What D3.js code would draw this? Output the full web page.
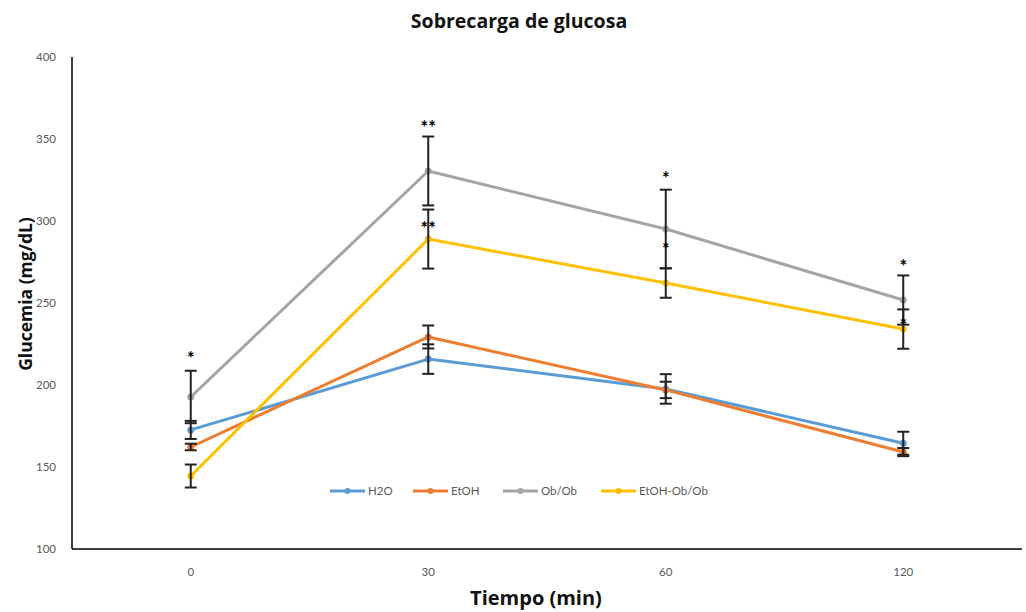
<!DOCTYPE html>
<html>
<head>
<meta charset="utf-8">
<script src="https://cdn.jsdelivr.net/npm/d3@7"></script>
<style>
  body { margin: 0; background: #fff; }
  text { font-family: Lato, "Open Sans", sans-serif; }
  .titulo { font-family: "Open Sans", Lato, sans-serif; font-weight: bold; }
</style>
</head>
<body>
<div id="vis"></div>
<script>
const WIDTH = 1026;
const HEIGHT = 612;
const margins = [72, 4, 57, 63]; // izquierda, derecha, arriba, abajo

// datos
const tiempos = ["0", "30", "60", "120"];
const series = ["H2O", "EtOH", "Ob/Ob", "EtOH-Ob/Ob"];
const colores = ["#5B9BD5", "#ED7D31", "#A5A5A5", "#FFC000"];
const h2o = [172.6, 215.8, 197.6, 164.5];
const etoh = [162.2, 229.3, 197.0, 159.1];
const obob = [192.7, 330.5, 295.1, 251.8];
const etohObob = [144.5, 289.0, 262.2, 234.1];
const err_h2o = [5.5, 9, 9, 7];
const err_etoh = [2, 7, 5, 2.5];
const err_obob = [16, 21, 24, 15];
const err_etohObob = [7, 18, 9, 12];
// asteriscos de significancia (texto y altura en mg/dL)
const signif_obob = ["*", "**", "*", "*"];
const signif_obob_y = [217.7, 358.5, 327.4, 273.8];
const signif_etohObob = ["", "**", "*", "*"];
const signif_etohObob_y = [0, 297, 284, 237.8];
const ticks_y = [100, 150, 200, 250, 300, 350, 400];

const valores = [h2o, etoh, obob, etohObob];
const errores = [err_h2o, err_etoh, err_obob, err_etohObob];

const SVG = d3.select("#vis").append("svg")
    .attr("width", WIDTH).attr("height", HEIGHT);

const escala_x = d3.scaleBand()
    .domain(tiempos)
    .range([margins[0], WIDTH - margins[1]]);

const escala_y = d3.scaleLinear()
    .domain([100, 400])
    .range([HEIGHT - margins[3], margins[2]]);

const cx = t => escala_x(t) + escala_x.bandwidth() / 2;

// Ejes
SVG.append("line")
    .attr("x1", margins[0]).attr("x2", margins[0])
    .attr("y1", escala_y(400)).attr("y2", escala_y(100))
    .attr("stroke", "#000").attr("stroke-width", 1.5);
SVG.append("line")
    .attr("x1", margins[0]).attr("x2", WIDTH - margins[1])
    .attr("y1", escala_y(100)).attr("y2", escala_y(100))
    .attr("stroke", "#000").attr("stroke-width", 1.5);

SVG.append("g").selectAll("text")
    .data(ticks_y)
    .join("text")
    .attr("x", margins[0] - 16)
    .attr("y", d => escala_y(d) + 4)
    .attr("text-anchor", "end")
    .attr("fill", "#595959")
    .style("font-size", "11.5px")
    .text(d => d);

SVG.append("g").selectAll("text")
    .data(tiempos)
    .join("text")
    .attr("x", d => cx(d))
    .attr("y", escala_y(100) + 27)
    .attr("text-anchor", "middle")
    .attr("fill", "#595959")
    .style("font-size", "11.5px")
    .text(d => d);

// Titulos
SVG.append("text")
    .attr("class", "titulo")
    .attr("x", 519).attr("y", 28)
    .attr("text-anchor", "middle")
    .attr("fill", "#111")
    .style("font-size", "19.5px")
    .text("Sobrecarga de glucosa");

SVG.append("text")
    .attr("class", "titulo")
    .attr("x", 536).attr("y", 605)
    .attr("text-anchor", "middle")
    .attr("fill", "#111")
    .style("font-size", "20px")
    .text("Tiempo (min)");

SVG.append("text")
    .attr("class", "titulo")
    .attr("transform", "translate(32,294) rotate(-90)")
    .attr("text-anchor", "middle")
    .attr("fill", "#111")
    .style("font-size", "17.5px")
    .text("Glucemia (mg/dL)");

// Lineas
const linea = d3.line()
    .x((d, i) => cx(tiempos[i]))
    .y(d => escala_y(d));

const seriesG = SVG.append("g");
valores.forEach((vals, s) => {
    seriesG.append("path")
        .datum(vals)
        .attr("d", linea)
        .attr("fill", "none")
        .attr("stroke", colores[s])
        .attr("stroke-width", 3)
        .attr("stroke-linejoin", "round");
    seriesG.selectAll(".m" + s)
        .data(vals)
        .join("circle")
        .attr("class", "m" + s)
        .attr("cx", (d, i) => cx(tiempos[i]))
        .attr("cy", d => escala_y(d))
        .attr("r", 3.5)
        .attr("fill", colores[s]);
});

// Barras de error
const errG = SVG.append("g").attr("stroke", "#222").attr("stroke-width", 2);
valores.forEach((vals, s) => {
    vals.forEach((v, i) => {
        const x = cx(tiempos[i]);
        const e = errores[s][i];
        errG.append("line")
            .attr("x1", x).attr("x2", x)
            .attr("y1", escala_y(v + e)).attr("y2", escala_y(v - e));
        [v + e, v - e].forEach(c => {
            errG.append("line")
                .attr("x1", x - 6).attr("x2", x + 6)
                .attr("y1", escala_y(c)).attr("y2", escala_y(c));
        });
    });
});

// Asteriscos
const estrellas = [];
tiempos.forEach((t, i) => {
    estrellas.push({ t: t, txt: signif_obob[i], y: signif_obob_y[i] });
    if (signif_etohObob[i]) estrellas.push({ t: t, txt: signif_etohObob[i], y: signif_etohObob_y[i] });
});
SVG.append("g").selectAll("text")
    .data(estrellas)
    .join("text")
    .attr("x", d => cx(d.t))
    .attr("y", d => escala_y(d.y) + 9)
    .attr("text-anchor", "middle")
    .attr("fill", "#000")
    .style("font-size", "18px").style("font-weight", "bold")
    .text(d => d.txt);

// Leyenda
const leyenda_x = [330, 413, 503, 601];
const legG = SVG.append("g");
series.forEach((nombre, s) => {
    const g = legG.append("g").attr("transform", "translate(" + leyenda_x[s] + ",491)");
    g.append("line").attr("x1", 0).attr("x2", 35)
        .attr("stroke", colores[s]).attr("stroke-width", 3);
    g.append("circle").attr("cx", 17.5).attr("r", 3).attr("fill", colores[s]);
    g.append("text").attr("x", 38).attr("y", 4)
        .attr("fill", "#595959")
        .style("font-size", "11.5px")
        .text(nombre);
});
</script>
</body>
</html>
